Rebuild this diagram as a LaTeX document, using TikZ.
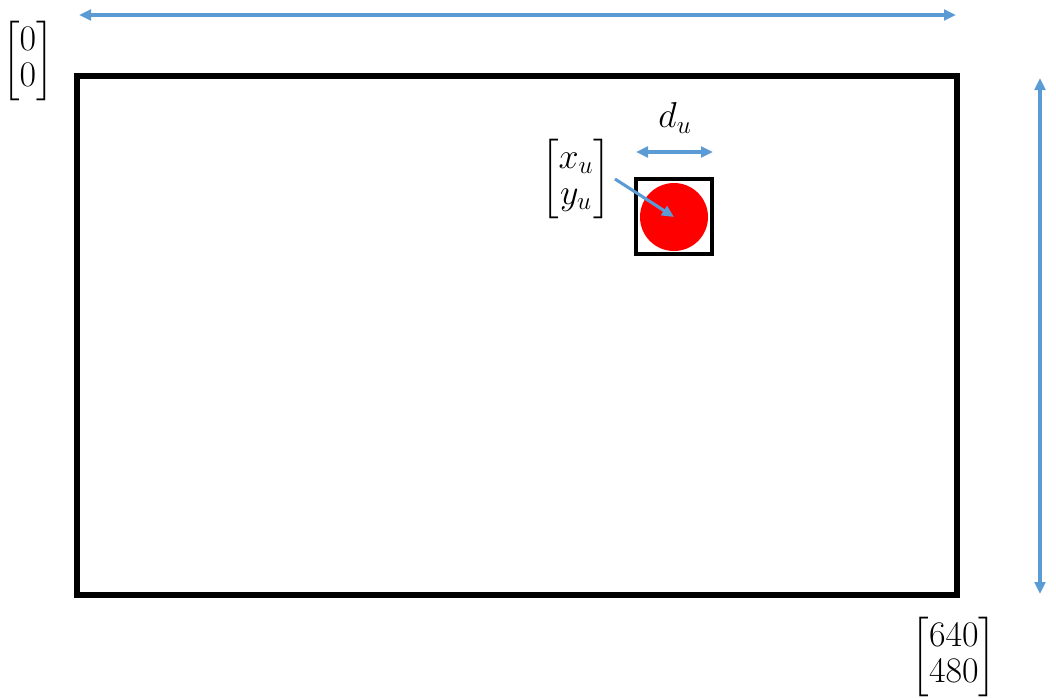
\documentclass[tikz,border=0pt]{standalone}
\usepackage{fix-cm}
\usepackage{amsmath}
\usepackage{tikz}
\usetikzlibrary{positioning,arrows.meta,calc}
\definecolor{dimblue}{HTML}{5B9BD5}
\renewcommand{\arraystretch}{0.85}

\begin{document}
\begin{tikzpicture}[
  x=0.75pt, y=-0.75pt,
  framebox/.style={draw=black, line width=3.8pt},
  dimarrow/.style={draw=dimblue, line width=2.3pt, {Triangle[length=9pt,width=8pt]}-{Triangle[length=9pt,width=8pt]}},
  ptarrow/.style={draw=dimblue, line width=2.3pt, -{Triangle[length=9pt,width=8pt]}},
  lbl/.style={font=\fontsize{27}{32}\selectfont, inner sep=0pt}
]
\useasboundingbox (0,0) rectangle (1056,697);

% image frame
\draw[framebox] (77,76) rectangle (957,595);
\coordinate (topL) at (79,15);
\coordinate (topR) at (956,15);
\coordinate (rightT) at (1040,78);
\coordinate (rightB) at (1040,594);
\draw[dimarrow] (topL) -- (topR);
\draw[dimarrow] (rightT) -- (rightB);

% corner labels
\node[lbl] (origin) at (28,61) {$\begin{bmatrix}0\\0\end{bmatrix}$};
\node[lbl] (corner) at (954,657) {$\begin{bmatrix}640\\480\end{bmatrix}$};

% object
\draw[framebox, line width=3pt] (636,179) rectangle (712,254);
\node[circle, fill=red, minimum size=51pt, inner sep=0pt] (obj) at (674,217) {};
\coordinate (duL) at (636,152);
\coordinate (duR) at (713,152);
\draw[dimarrow] (duL) -- (duR);
\node[lbl] (du) at (675,118) {$d_u$};

% object centre
\node[lbl] (pos) at (576,179) {$\begin{bmatrix}x_u\\y_u\end{bmatrix}$};
\coordinate (posTip) at (615,179);
\draw[ptarrow] (posTip) -- (obj.center);

\end{tikzpicture}
\end{document}
